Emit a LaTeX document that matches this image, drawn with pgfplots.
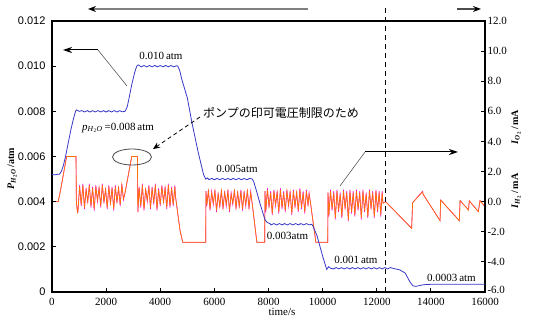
\documentclass[border=0pt]{standalone}
\usepackage{fontspec}
\setmainfont{Liberation Serif}
\newfontfamily\arial{Liberation Sans}
\newfontfamily\jp{Noto Sans CJK JP}
\usepackage{pgfplots}
\usepackage{pgfplotstable}
\pgfplotsset{compat=1.18}
\usetikzlibrary{arrows.meta}
\definecolor{cblue}{RGB}{55,55,200}
\definecolor{corange}{RGB}{255,110,0}
\definecolor{cmag}{RGB}{255,0,230}

\pgfplotstableread{
t o m
0 0.0 0.0
230 0.0 0.0
320 0.8 0.8
540 3.0 3.0
887 3.0 3.0
900 0.0 0.0
940 -0.7 -0.7
960 -0.6 -0.7
1020 1.0 1.1
1080 -0.2 -0.3
1140 1.1 1.2
1200 -0.4 -0.5
1260 0.8 0.9
1320 0.0 -0.1
1380 1.1 1.2
1440 -0.3 -0.4
1500 0.9 1.0
1560 -0.5 -0.6
1620 1.0 1.1
1680 0.1 0.0
1740 0.9 1.0
1800 -0.3 -0.4
1860 1.1 1.2
1920 0.0 -0.1
1980 0.8 0.9
2040 -0.4 -0.5
2100 1.0 1.1
2160 -0.1 -0.2
2220 0.9 1.0
2280 -0.5 -0.6
2340 1.0 1.1
2400 0.0 -0.1
2460 0.9 1.0
2520 -0.2 -0.3
2580 1.1 1.2
2640 0.2 0.1
2700 0.6 0.6
2946 3.0 3.0
3155 3.0 3.0
3175 -0.7 -0.7
3220 0.9 1.0
3280 -0.3 -0.4
3340 1.1 1.2
3400 -0.5 -0.6
3460 0.8 0.9
3520 0.1 0.0
3580 1.0 1.1
3640 -0.4 -0.5
3700 0.9 1.0
3760 -0.1 -0.2
3820 1.1 1.2
3880 -0.5 -0.6
3940 0.8 0.9
4000 -0.2 -0.3
4060 1.0 1.1
4120 0.0 -0.1
4180 0.9 1.0
4240 -0.4 -0.5
4300 1.1 1.2
4360 -0.3 -0.4
4420 0.9 1.0
4480 -0.2 -0.3
4540 1.0 1.1
4560 0.4 0.4
4730 -1.9 -1.9
4830 -2.7 -2.7
5680 -2.7 -2.7
5690 0.7 0.7
5720 -0.2 -0.3
5780 0.7 0.8
5840 -0.5 -0.6
5900 0.6 0.7
5960 -0.1 -0.2
6020 0.7 0.8
6080 -0.6 -0.7
6140 0.5 0.6
6200 -0.3 -0.4
6260 0.7 0.8
6320 -0.4 -0.5
6380 0.6 0.7
6440 -0.2 -0.3
6500 0.7 0.8
6560 -0.6 -0.7
6620 0.5 0.6
6680 -0.1 -0.2
6740 0.7 0.8
6800 -0.4 -0.5
6860 0.6 0.7
6920 -0.3 -0.4
6980 0.7 0.8
7040 -0.5 -0.6
7100 0.6 0.7
7160 -0.2 -0.3
7220 0.7 0.8
7280 -0.4 -0.5
7340 0.6 0.7
7390 0.0 0.0
7570 -2.7 -2.7
7860 -2.7 -2.7
7870 0.7 0.7
7900 -0.6 -0.7
7960 0.8 0.9
8020 -0.3 -0.4
8080 0.6 0.7
8140 -0.8 -0.9
8200 0.7 0.8
8260 -0.2 -0.3
8320 0.6 0.7
8380 -0.7 -0.8
8440 0.8 0.9
8500 -0.4 -0.5
8560 0.6 0.7
8620 -0.6 -0.7
8680 0.7 0.8
8740 -0.2 -0.3
8800 0.6 0.7
8860 -0.8 -0.9
8920 0.7 0.8
8980 -0.3 -0.4
9040 0.6 0.7
9100 -0.6 -0.7
9160 0.8 0.9
9220 -0.4 -0.5
9280 0.6 0.7
9340 -0.7 -0.8
9400 0.7 0.8
9460 -0.2 -0.3
9500 0.5 0.6
9530 0.2 0.2
9750 -2.7 -2.7
10190 -2.7 -2.7
10200 0.6 0.6
10230 -0.9 -1.0
10290 0.7 0.8
10350 -0.5 -0.6
10410 0.6 0.7
10470 -1.1 -1.2
10530 0.7 0.8
10590 -0.6 -0.7
10650 0.5 0.6
10710 -1.0 -1.1
10770 0.7 0.8
10830 -0.4 -0.5
10890 0.6 0.7
10950 -1.2 -1.3
11010 0.7 0.8
11070 -0.7 -0.8
11130 0.6 0.7
11190 -0.9 -1.0
11250 0.7 0.8
11310 -0.5 -0.6
11370 0.6 0.7
11430 -1.1 -1.2
11490 0.7 0.8
11550 -0.6 -0.7
11610 0.5 0.6
11670 -1.0 -1.1
11730 0.7 0.8
11790 -0.4 -0.5
11850 0.6 0.7
11910 -1.0 -1.1
11970 0.7 0.8
12030 -0.6 -0.7
12090 0.6 0.7
12150 -0.9 -1.0
12200 0.6 0.7
12230 -0.1 -0.1
12330 0.0 0.0
13290 -1.77 -1.77
13325 -0.07 -0.07
13695 0.66 0.7
13710 0.5 0.5
14340 -1.26 -1.26
14360 0.11 0.11
15050 -1.26 -1.26
15080 0.07 0.07
15390 -0.55 -0.55
15420 0.05 0.05
15755 -0.66 -0.66
15815 0.07 0.07
16000 -0.33 -0.33
}\currents

\pgfplotstableread{
t p
0 0.00520
100 0.00519
200 0.00521
280 0.00522
350 0.00535
420 0.00560
500 0.00600
600 0.00660
700 0.00720
800 0.00770
870 0.00800
900 0.00806
1000 0.00800
1100 0.00803
1200 0.00797
1300 0.00803
1400 0.00797
1500 0.00803
1600 0.00797
1700 0.00803
1800 0.00797
1900 0.00803
2000 0.00797
2100 0.00803
2200 0.00797
2300 0.00803
2400 0.00797
2500 0.00803
2600 0.00798
2700 0.00800
2780 0.00820
2850 0.00860
2950 0.00920
3050 0.00970
3130 0.01000
3180 0.01006
3300 0.00997
3400 0.01003
3500 0.00997
3600 0.01003
3700 0.00997
3800 0.01003
3900 0.00997
4000 0.01003
4100 0.00997
4200 0.01003
4300 0.00997
4400 0.01003
4500 0.00997
4600 0.01002
4650 0.01000
4720 0.00980
4800 0.00940
5000 0.00860
5170 0.00750
5400 0.00620
5600 0.00520
5680 0.00500
5750 0.00505
5800 0.00497
5900 0.00503
6000 0.00497
6100 0.00503
6200 0.00497
6300 0.00503
6400 0.00497
6500 0.00503
6600 0.00497
6700 0.00503
6800 0.00497
6900 0.00503
7000 0.00497
7100 0.00503
7200 0.00497
7300 0.00503
7400 0.00500
7450 0.00490
7550 0.00450
7690 0.00390
7870 0.00320
7950 0.00308
8050 0.00303
8100 0.00297
8200 0.00303
8300 0.00297
8400 0.00303
8500 0.00297
8600 0.00303
8700 0.00297
8800 0.00303
8900 0.00297
9000 0.00303
9100 0.00297
9200 0.00303
9300 0.00297
9400 0.00303
9500 0.00297
9600 0.00300
9650 0.00290
9790 0.00250
10010 0.00155
10150 0.00100
10220 0.00112
10300 0.00105
10400 0.00102
10500 0.00108
10600 0.00102
10700 0.00108
10800 0.00102
10900 0.00108
11000 0.00102
11100 0.00108
11200 0.00102
11300 0.00108
11400 0.00102
11500 0.00108
11600 0.00102
11700 0.00108
11800 0.00102
11900 0.00108
12000 0.00102
12100 0.00108
12200 0.00102
12300 0.00108
12400 0.00102
12500 0.00108
12600 0.00105
12700 0.00102
12850 0.00098
13050 0.00084
13230 0.00044
13340 0.00027
13450 0.00025
13670 0.00031
13800 0.00033
14000 0.00034
14500 0.00034
15000 0.00034
15500 0.00034
16000 0.00034
}\pressure

\begin{document}
\begin{tikzpicture}[x=1pt,y=1pt]
\useasboundingbox (0,0) rectangle (536,329);
\begin{axis}[at={(52pt,37pt)}, anchor=south west, scale only axis,
  width=433pt, height=271pt,
  xmin=0, xmax=16000, ymin=-6, ymax=12,
  axis x line=none, axis y line*=right,
  y axis line style={line width=1.5pt},
  ytick={-6,-4,...,12},
  yticklabels={{\raisebox{4pt}{-6.0}},-4.0,-2.0,0.0,2.0,4.0,6.0,8.0,10.0,12.0},
  tick align=inside, major tick length=4pt,
  tick style={black, line width=0.8pt},
  ticklabel style={font=\fontsize{11}{13}\selectfont},
  yticklabel style={xshift=-1pt},
  scaled y ticks=false]
  \addplot[cmag, line width=0.6pt] table[x=t, y=m] {\currents};
  \addplot[corange, line width=0.7pt] table[x=t, y=o] {\currents};
\end{axis}
\begin{axis}[at={(52pt,37pt)}, anchor=south west, scale only axis,
  width=433pt, height=271pt,
  xmin=0, xmax=16000, ymin=0, ymax=0.012,
  axis line style={line width=1.5pt},
  xtick={0,2000,...,16000},
  xticklabels={0,2000,4000,6000,8000,10000,12000,14000,16000},
  ytick={0,0.002,0.004,0.006,0.008,0.010,0.012},
  yticklabels={{\arial 0},{\arial 0.002},{\arial 0.004},{\arial 0.006},{\arial 0.008},{\arial 0.010},{\arial 0.012}},
  xtick pos=bottom, ytick pos=left,
  tick align=inside, major tick length=4pt,
  tick style={black, line width=0.8pt},
  ticklabel style={font=\fontsize{11}{13}\selectfont},
  yticklabel style={xshift=-3pt},
  xticklabel style={yshift=-3pt},
  scaled y ticks=false, scaled x ticks=false]
  \addplot[cblue, line width=0.8pt] table[x=t, y=p] {\pressure};
\end{axis}

% axis labels
\node[rotate=90, font=\fontsize{10}{12}\selectfont\bfseries] at (12,160)
  {\textit{P}\textsubscript{\textit{H}\textsubscript{2}\textit{O}}\,/atm};
\node[rotate=90, font=\fontsize{10}{12}\selectfont\bfseries] at (516,202)
  {\textit{I}\textsubscript{\textit{O}\textsubscript{2}}\,/\,mA};
\node[rotate=90, font=\fontsize{10}{12}\selectfont\bfseries] at (516,138)
  {\textit{I}\textsubscript{\textit{H}\textsubscript{2}}\,/\,mA};
\node[font=\fontsize{11}{13}\selectfont] at (282,17) {time/s};

% annotations
\begin{scope}[font=\fontsize{11}{13}\selectfont]
\node at (161,273) {0.010\,atm};
\node at (118,201) {\textit{p}\textsubscript{\textit{H}\textsubscript{2}\textit{O}}\,=0.008\,atm};
\node at (237,160) {0.005atm};
\node at (287.5,93) {0.003atm};
\node at (356,69) {0.001\,atm};
\node at (451.5,51.5) {0.0003\,atm};
\end{scope}
\node[anchor=west, font=\fontsize{12}{14}\selectfont\jp, inner sep=0pt] at (203,216) {ポンプの印可電圧制限のため};

% top arrows and dashed line
\draw[gray, line width=1.2pt, -{Stealth[length=8pt,width=6pt,black]}] (308,320) -- (88,320);
\draw[gray!60!black, line width=1.2pt, -{Stealth[length=8pt,width=6pt,black]}] (457,320) -- (481,320);
\draw[black, line width=1pt, dash pattern=on 5pt off 4pt] (385,321) -- (385,37);

% in-plot arrows
\draw[gray!70!black, line width=0.6pt] (127,243) -- (98,279);
\draw[black, line width=1pt, -{Stealth[length=9pt,width=6pt]}] (98,279) -- (63,279);
\draw[gray!70!black, line width=0.6pt] (340,143) -- (365,177);
\draw[black, line width=1pt, -{Stealth[length=9pt,width=6pt]}] (365,177) -- (458,177);

% ellipse and dashed arrow
\draw[black!70, line width=0.8pt] (132,172) ellipse [x radius=19.5, y radius=8];
\draw[black, line width=0.8pt, dash pattern=on 4pt off 3pt, -{Stealth[length=7pt,width=6pt]}] (200,212) -- (153,180);
\end{tikzpicture}
\end{document}
